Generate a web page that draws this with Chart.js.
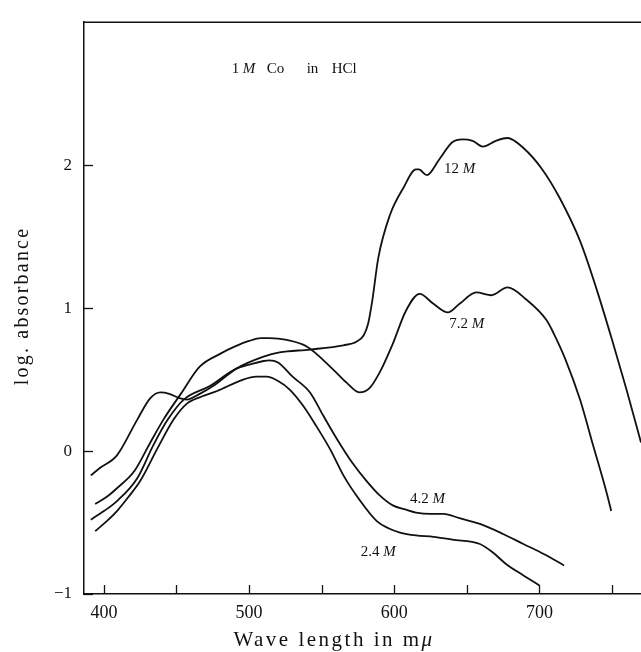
<!DOCTYPE html>
<html lang="en">
<head>
    <meta charset="UTF-8">
    <title>1 M Co in HCl - log. absorbance</title>
    <script src="https://cdn.jsdelivr.net/npm/chart.js"></script>
    <style>
        html, body {
            margin: 0;
            padding: 0;
            background: #ffffff;
        }
        .wrap {
            width: 641px;
            height: 652px;
        }
    </style>
</head>
<body>
    <div class="wrap">
        <canvas id="spectra" width="641" height="652"></canvas>
    </div>

    <script>
        // wave length (m\u03bc) and log. absorbance
        const x12 = [391, 397, 409, 423, 432, 439, 445, 452, 457, 466, 476, 491, 510, 521, 542, 565, 574, 579, 582, 585, 589, 597, 606, 615, 617, 622.5, 631, 640, 647, 654, 661, 670, 678, 689, 702, 714, 728, 739, 750, 760, 770];
        const y12 = [-0.17, -0.12, -0.03, 0.22, 0.37, 0.41, 0.40, 0.37, 0.36, 0.40, 0.46, 0.575, 0.66, 0.69, 0.71, 0.74, 0.765, 0.81, 0.89, 1.06, 1.35, 1.65, 1.835, 1.97, 1.97, 1.93, 2.04, 2.16, 2.18, 2.17, 2.13, 2.17, 2.19, 2.12, 1.97, 1.77, 1.47, 1.145, 0.78, 0.43, 0.06];

        const x72 = [394, 402, 409, 421, 432, 441, 453, 466, 480, 490, 500, 508, 514, 526, 540, 558, 567, 576, 583, 590, 599, 608, 617.5, 627, 637, 645, 656.5, 667, 678, 691, 705, 710, 718, 728, 737, 746, 749.5];
        const y72 = [-0.37, -0.32, -0.26, -0.14, 0.06, 0.22, 0.40, 0.59, 0.68, 0.73, 0.77, 0.79, 0.79, 0.777, 0.73, 0.57, 0.48, 0.41, 0.44, 0.55, 0.75, 0.98, 1.10, 1.03, 0.97, 1.03, 1.11, 1.09, 1.145, 1.06, 0.915, 0.82, 0.64, 0.36, 0.04, -0.28, -0.42];

        const x42 = [391, 400, 409, 423, 434, 444, 455, 473, 490, 502, 510, 514, 520, 530, 542, 551, 562, 571, 581, 590, 599, 608, 615, 625, 634, 645, 659, 675, 689, 703, 717];
        const y42 = [-0.48, -0.42, -0.35, -0.19, 0.04, 0.22, 0.36, 0.455, 0.57, 0.61, 0.63, 0.635, 0.62, 0.52, 0.41, 0.25, 0.06, -0.08, -0.21, -0.31, -0.38, -0.41, -0.43, -0.44, -0.44, -0.47, -0.51, -0.58, -0.65, -0.72, -0.80];

        const x24 = [394, 402, 409, 417, 425, 437, 448, 457, 467, 478, 496, 505, 512, 520, 528, 537, 546, 556, 565, 576, 588, 596, 604, 615, 627, 640, 659, 668, 677, 689, 700];
        const y24 = [-0.56, -0.49, -0.42, -0.32, -0.21, 0.02, 0.22, 0.33, 0.38, 0.42, 0.50, 0.52, 0.52, 0.49, 0.43, 0.32, 0.18, 0.01, -0.17, -0.34, -0.49, -0.54, -0.57, -0.59, -0.60, -0.62, -0.65, -0.71, -0.79, -0.87, -0.94];

        const seriesNames = ["12 M", "7.2 M", "4.2 M", "2.4 M"];
        const xTicks = [400, 450, 500, 550, 600, 650, 700, 750];
        const yTicks = [-1, 0, 1, 2];

        const SERIF = "'Liberation Serif', 'DejaVu Serif', serif";

        // where the hand-written labels sit, in data units
        const curveLabels = [
            { text: "12", x: 645, y: 1.975 },
            { text: "7.2", x: 650, y: 0.885 },
            { text: "4.2", x: 623, y: -0.335 },
            { text: "2.4", x: 589, y: -0.71 }
        ];

        function toPoints(xs, ys) {
            return xs.map((x, i) => ({ x: x, y: ys[i] }));
        }

        // draws "text M" with an italic M, centred on (cx, cy)
        function drawMolar(ctx, num, cx, cy, size) {
            ctx.font = size + "px " + SERIF;
            const w1 = ctx.measureText(num + " ").width;
            ctx.font = "italic " + size + "px " + SERIF;
            const w2 = ctx.measureText("M").width;
            let x = cx - (w1 + w2) / 2;
            ctx.font = size + "px " + SERIF;
            ctx.fillText(num + " ", x, cy);
            ctx.font = "italic " + size + "px " + SERIF;
            ctx.fillText("M", x + w1, cy);
        }

        const framePlugin = {
            id: "frame",
            afterDraw(chart) {
                const ctx = chart.ctx;
                const area = chart.chartArea;
                const xs = chart.scales.x;
                const ys = chart.scales.y;
                ctx.save();
                ctx.strokeStyle = "#111";
                ctx.lineWidth = 1.5;

                // top edge of the frame
                ctx.beginPath();
                ctx.moveTo(area.left, area.top);
                ctx.lineTo(area.right, area.top);
                ctx.stroke();

                // tick marks pointing inward
                ctx.lineWidth = 1.3;
                xTicks.forEach(v => {
                    const px = Math.round(xs.getPixelForValue(v)) + 0.5;
                    ctx.beginPath();
                    ctx.moveTo(px, area.bottom);
                    ctx.lineTo(px, area.bottom - 9);
                    ctx.stroke();
                });
                yTicks.forEach(v => {
                    const py = Math.round(ys.getPixelForValue(v)) + 0.5;
                    ctx.beginPath();
                    ctx.moveTo(area.left, py);
                    ctx.lineTo(area.left + 9, py);
                    ctx.stroke();
                });

                ctx.fillStyle = "#111";
                ctx.textBaseline = "middle";
                ctx.textAlign = "left";

                // curve labels
                curveLabels.forEach(l => {
                    drawMolar(ctx, l.text, xs.getPixelForValue(l.x), ys.getPixelForValue(l.y), 15);
                });

                // heading inside the frame
                const hx = xs.getPixelForValue(488);
                const hy = ys.getPixelForValue(2.67);
                const parts = [
                    { t: "1", dx: 0, it: false },
                    { t: "M", dx: 11, it: true },
                    { t: "Co", dx: 35, it: false },
                    { t: "in", dx: 75, it: false },
                    { t: "HCl", dx: 100, it: false }
                ];
                parts.forEach(p => {
                    ctx.font = (p.it ? "italic " : "") + "15px " + SERIF;
                    ctx.fillText(p.t, hx + p.dx, hy);
                });

                // axis titles, spaced out like the original lettering
                if ("letterSpacing" in ctx) ctx.letterSpacing = "2.5px";
                ctx.font = "21px " + SERIF;
                const xt = "Wave length in m";
                const w1 = ctx.measureText(xt).width;
                ctx.font = "italic 21px " + SERIF;
                const w2 = ctx.measureText("\u03bc").width;
                let tx = 334 - (w1 + w2) / 2;
                ctx.font = "21px " + SERIF;
                ctx.fillText(xt, tx, 640);
                ctx.font = "italic 21px " + SERIF;
                ctx.fillText("\u03bc", tx + w1, 640);

                ctx.translate(23, 306);
                ctx.rotate(-Math.PI / 2);
                ctx.textAlign = "center";
                if ("letterSpacing" in ctx) ctx.letterSpacing = "2.2px";
                ctx.font = "20px " + SERIF;
                ctx.fillText("log. absorbance", 0, 0);
                ctx.restore();
            }
        };

        const lineStyle = {
            borderColor: "#111",
            borderWidth: 1.8,
            pointRadius: 0,
            fill: false,
            cubicInterpolationMode: "monotone"
        };

        const ctx = document.getElementById("spectra").getContext("2d");
        new Chart(ctx, {
            type: "line",
            data: {
                datasets: [
                    Object.assign({ label: seriesNames[0], data: toPoints(x12, y12) }, lineStyle),
                    Object.assign({ label: seriesNames[1], data: toPoints(x72, y72) }, lineStyle),
                    Object.assign({ label: seriesNames[2], data: toPoints(x42, y42) }, lineStyle),
                    Object.assign({ label: seriesNames[3], data: toPoints(x24, y24) }, lineStyle)
                ]
            },
            options: {
                responsive: false,
                animation: false,
                clip: false,
                layout: {
                    padding: { top: 13, left: 0, right: 0, bottom: 0 }
                },
                plugins: {
                    legend: { display: false },
                    tooltip: { enabled: false }
                },
                scales: {
                    x: {
                        type: "linear",
                        min: 386.3,
                        max: 770,
                        afterBuildTicks: scale => {
                            scale.ticks = xTicks.map(v => ({ value: v }));
                        },
                        afterFit: scale => {
                            scale.height = 58;
                        },
                        grid: { display: false, drawTicks: false },
                        border: { display: true, color: "#111", width: 1.5 },
                        ticks: {
                            padding: 8,
                            color: "#111",
                            font: { family: SERIF, size: 18 },
                            callback: v => (v % 100 === 0 ? String(v) : "")
                        }
                    },
                    y: {
                        type: "linear",
                        min: -1,
                        max: 3,
                        afterBuildTicks: scale => {
                            scale.ticks = yTicks.map(v => ({ value: v }));
                        },
                        afterFit: scale => {
                            scale.width = 84;
                        },
                        grid: { display: false, drawTicks: false },
                        border: { display: true, color: "#111", width: 1.5 },
                        ticks: {
                            padding: 12,
                            color: "#111",
                            font: { family: SERIF, size: 17 },
                            callback: v => (v < 0 ? "\u2212" + Math.abs(v) : String(v))
                        }
                    }
                }
            },
            plugins: [framePlugin]
        });
    </script>
</body>
</html>
